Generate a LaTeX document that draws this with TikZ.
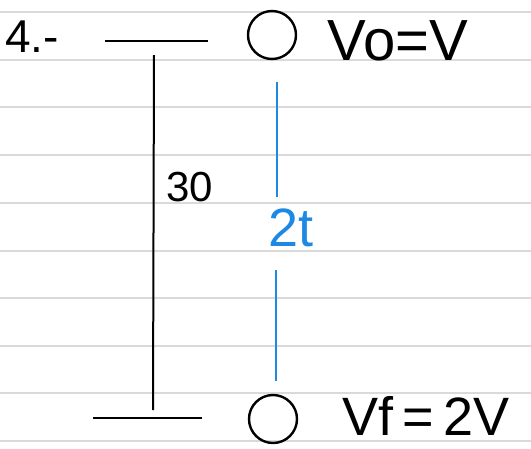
\documentclass[tikz,border=0pt]{standalone}
\usepackage{fontspec}
\setmainfont{Liberation Sans}
\definecolor{rule}{RGB}{218,218,218}
\definecolor{penblue}{RGB}{30,136,229}
\begin{document}
\begin{tikzpicture}[x=1pt,y=-1pt,
  ink/.style={line width=2pt,black},
  blueink/.style={line width=2pt,penblue},
  hand/.style={inner sep=0pt,anchor=center},
  ball/.style={draw,line width=2.4pt,circle,minimum size=48pt,inner sep=0pt}]
\useasboundingbox[fill=white] (0,0) rectangle (531,448);
\foreach \yy in {12,60,107,155,203,251,298,346,393,441}
  \draw[rule,line width=1.3pt] (0,\yy) -- (531,\yy);
% labels
\node[hand,font=\fontsize{46}{46}\selectfont] (num) at (32,37) {4.-};
\node[hand,font=\fontsize{42}{42}\selectfont] (h) at (190,187) {30};
\node[hand,font=\fontsize{54}{54}\selectfont,text=penblue] (t) at (291,228) {2t};
\node[hand,font=\fontsize{58}{58}\selectfont] (vo) at (398,41) {Vo=V};
\node[hand,font=\fontsize{54}{54}\selectfont] (vf) at (426,416) {Vf\,=\,2V};
% balls
\node[ball] (b1) at (272,35) {};
\node[ball] (b2) at (273,419) {};
% height bars
\coordinate (tl) at (105,41); \coordinate (tr) at (208,41);
\coordinate (bl) at (93,418); \coordinate (br) at (202,418);
\coordinate (vt) at (154,55); \coordinate (vb) at (153,410);
\draw[ink] (tl) -- (tr);
\draw[ink] (bl) -- (br);
\draw[ink] (vt) -- (vb);
% blue time lines
\coordinate (u1) at (277,82); \coordinate (u2) at (277,197);
\coordinate (d1) at (276,270); \coordinate (d2) at (276,381);
\draw[blueink] (u1) -- (u2);
\draw[blueink] (d1) -- (d2);
\end{tikzpicture}
\end{document}
